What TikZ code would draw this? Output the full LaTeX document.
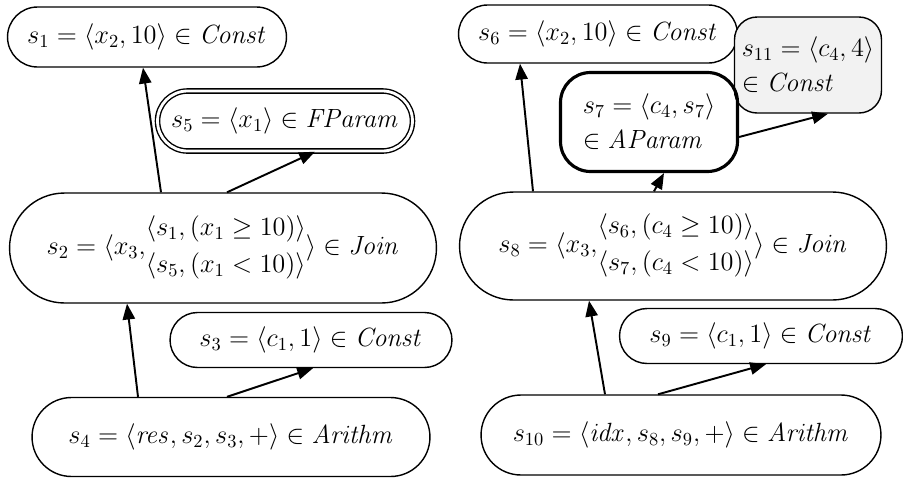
\RequirePackage{fix-cm}
\documentclass[tikz,border=0pt]{standalone}
\usepackage{amsmath}
\usepackage{amssymb}
\usepackage{tikz}
\usetikzlibrary{shapes.misc, arrows.meta, positioning, calc}
\usepackage{xcolor}

\begin{document}
\begin{tikzpicture}[
    x=0.02cm, y=-0.02cm,
    pill/.style={rectangle, draw, line width=0.8pt, inner sep=0pt, align=center, font=\fontsize{15}{18}\selectfont},
    arrow/.style={-{Triangle[length=9pt, width=7pt]}, line width=1.1pt}
]
\useasboundingbox (0,0) rectangle (903,478);

% left graph
\node[pill, minimum width=5.58cm, minimum height=1.2cm, rounded corners=0.6cm] (s1) at (147,37) {$s_1 = \langle x_2, 10\rangle \in \mathit{Const}$};
\node[pill, minimum width=5.1cm, minimum height=1.2cm, rounded corners=0.6cm, double, double distance=1.6pt] (s5) at (285,121) {$s_5 = \langle x_1\rangle \in \mathit{FParam}$};
\node[pill, minimum width=8.54cm, minimum height=2.2cm, rounded corners=1.1cm] (s2) at (223,248) {$s_2 = \langle x_3,\!\begin{array}{@{}c@{}}\langle s_1,(x_1 \geq 10)\rangle\\[3pt] \langle s_5,(x_1 < 10)\rangle\end{array}\rangle \in \mathit{Join}$};
\node[pill, minimum width=5.64cm, minimum height=1.1cm, rounded corners=0.55cm] (s3) at (311,340) {$s_3 = \langle c_1, 1\rangle \in \mathit{Const}$};
\node[pill, minimum width=7.96cm, minimum height=1.58cm, rounded corners=0.79cm] (s4) at (231,437) {$s_4 = \langle \mathit{res}, s_2, s_3, +\rangle \in \mathit{Arithm}$};

% right graph
\node[pill, minimum width=5.58cm, minimum height=1.16cm, rounded corners=0.58cm] (s6) at (598,34) {$s_6 = \langle x_2, 10\rangle \in \mathit{Const}$};
\node[pill, minimum width=2.94cm, minimum height=1.92cm, rounded corners=0.45cm, fill=gray!10, align=left] (s11) at (808,65) {$s_{11} = \langle c_4, 4\rangle$\\[2pt]$\in \mathit{Const}$};
\node[pill, minimum width=3.54cm, minimum height=1.98cm, rounded corners=0.6cm, line width=1.8pt, align=left] (s7) at (649,122) {$s_7 = \langle c_4, s_7\rangle$\\[2pt]$\in \mathit{AParam}$};
\node[pill, minimum width=8.54cm, minimum height=2.16cm, rounded corners=1.08cm] (s8) at (673,246) {$s_8 = \langle x_3,\!\begin{array}{@{}c@{}}\langle s_6,(c_4 \geq 10)\rangle\\[3pt] \langle s_7,(c_4 < 10)\rangle\end{array}\rangle \in \mathit{Join}$};
\node[pill, minimum width=5.66cm, minimum height=1.1cm, rounded corners=0.55cm] (s9) at (761,336) {$s_9 = \langle c_1, 1\rangle \in \mathit{Const}$};
\node[pill, minimum width=8.0cm, minimum height=1.6cm, rounded corners=0.8cm] (s10) at (681,435) {$s_{10} = \langle \mathit{idx}, s_8, s_9, +\rangle \in \mathit{Arithm}$};

% dependencies
\draw[arrow] ($(s2.north)+(-62,0)$) -- ($(s1.south)+(-4,0)$);
\draw[arrow] ($(s2.north)+(4,0)$) -- ($(s5.south)+(30,0)$);
\draw[arrow] ($(s4.north)+(-93,0)$) -- ($(s2.south)+(-96,0)$);
\draw[arrow] ($(s4.north)+(-4,0)$) -- ($(s3.south)+(2,0)$);
\draw[arrow] ($(s8.north)+(-140,0)$) -- ($(s6.south)+(-78,0)$);
\draw[arrow] ($(s8.north)+(-19,0)$) -- ($(s7.south)+(15,0)$);
\draw[arrow] ($(s7.east)+(0,15)$) -- ($(s11.south)+(20,0)$);
\draw[arrow] ($(s10.north)+(-76,0)$) -- ($(s8.south)+(-84,0)$);
\draw[arrow] ($(s10.north)+(-23,0)$) -- ($(s9.south)+(5,0)$);

\end{tikzpicture}
\end{document}
